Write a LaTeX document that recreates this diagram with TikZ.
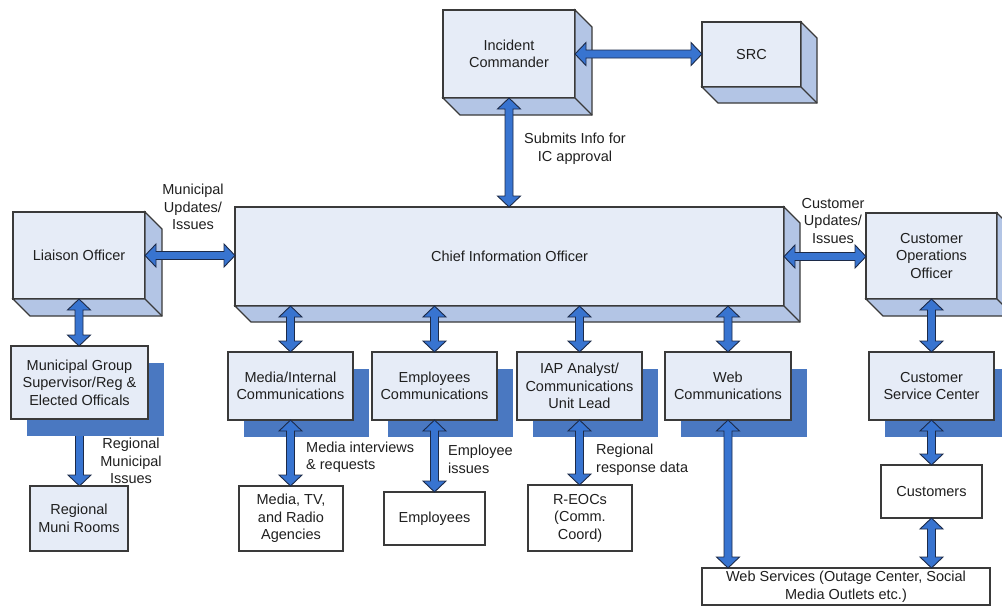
\documentclass[tikz,border=0pt]{standalone}
\usepackage{fontspec}
\setmainfont{Liberation Sans}
\usetikzlibrary{calc}
\definecolor{front}{HTML}{E6ECF7}
\definecolor{sideface}{HTML}{B3C5E5}
\definecolor{edge}{HTML}{3A3A3A}
\definecolor{shadowblue}{HTML}{4A78C1}
\definecolor{arrowfill}{HTML}{3874D0}
\definecolor{arrowline}{HTML}{1C2A48}
\pgfdeclarelayer{back}
\pgfsetlayers{back,main}

\begin{document}
\begin{tikzpicture}[x=1pt,y=-1pt,
  every node/.style={font=\fontsize{14.5}{17.5}\selectfont, align=center, text=black!88},
  box/.style={draw=edge, fill=front, line width=1.1pt, inner sep=0pt, outer sep=0pt},
  plainbox/.style={draw=edge, fill=white, line width=1.1pt, inner sep=0pt, outer sep=0pt},
  sidefaces/.style={draw=edge, fill=sideface, line width=1.1pt, line join=miter},
  lbl/.style={inner sep=0pt},
  % double-headed block arrow between two points
  dbl/.style={draw=arrowline, fill=arrowfill, line width=0.9pt, line join=miter,
    to path={let \p1=(\tikztostart), \p2=(\tikztotarget),
      \n1={atan2(\y2-\y1,\x2-\x1)} in
      -- ($(\p1)+(\n1:11pt)+(\n1+90:11.5pt)$)
      -- ($(\p1)+(\n1:11pt)+(\n1+90:4pt)$)
      -- ($(\p2)+(\n1+180:11pt)+(\n1+90:4pt)$)
      -- ($(\p2)+(\n1+180:11pt)+(\n1+90:11.5pt)$)
      -- (\p2)
      -- ($(\p2)+(\n1+180:11pt)+(\n1-90:11.5pt)$)
      -- ($(\p2)+(\n1+180:11pt)+(\n1-90:4pt)$)
      -- ($(\p1)+(\n1:11pt)+(\n1-90:4pt)$)
      -- ($(\p1)+(\n1:11pt)+(\n1-90:11.5pt)$)
      -- cycle}},
  % single-headed block arrow
  sgl/.style={draw=arrowline, fill=arrowfill, line width=0.9pt, line join=miter,
    to path={let \p1=(\tikztostart), \p2=(\tikztotarget),
      \n1={atan2(\y2-\y1,\x2-\x1)} in
      -- ($(\p1)+(\n1+90:4pt)$)
      -- ($(\p2)+(\n1+180:11pt)+(\n1+90:4pt)$)
      -- ($(\p2)+(\n1+180:11pt)+(\n1+90:11.5pt)$)
      -- (\p2)
      -- ($(\p2)+(\n1+180:11pt)+(\n1-90:11.5pt)$)
      -- ($(\p2)+(\n1+180:11pt)+(\n1-90:4pt)$)
      -- ($(\p1)+(\n1-90:4pt)$)
      -- cycle}}]

\useasboundingbox (0,0) rectangle (1002,606);
\clip (0,0) rectangle (1002,606);

% 3D boxes
\node[box, minimum width=132pt, minimum height=88pt] (ic) at (509,54) {Incident\\Commander};
\node[box, minimum width=99pt, minimum height=65pt] (src) at (751.5,54.5) {SRC};
\node[box, minimum width=132pt, minimum height=87pt] (liaison) at (79,255.5) {Liaison Officer};
\node[box, minimum width=549pt, minimum height=99pt] (cio) at (509.5,256.5) {Chief Information Officer};
\node[box, minimum width=131pt, minimum height=86pt] (cops) at (931.5,256) {Customer\\Operations\\Officer};

\foreach \n/\d in {ic/17,src/16,liaison/17,cio/16,cops/17}{
  \filldraw[sidefaces] (\n.north east) -- ++(\d,\d) -- ($(\n.south east)+(\d,\d)$)
    -- ($(\n.south west)+(\d,\d)$) -- (\n.south west) -- (\n.south east) -- cycle;
  \draw[sidefaces, fill=none] (\n.south east) -- ++(\d,\d);
}

% boxes with flat shadows
\node[box, minimum width=137pt, minimum height=73pt] (mgroup) at (79.5,382.5) {Municipal Group\\Supervisor/Reg \&\\Elected Officals};
\node[box, minimum width=125pt, minimum height=68pt] (media) at (290.5,386) {Media/Internal\\Communications};
\node[box, minimum width=125pt, minimum height=68pt] (empc) at (434.5,386) {Employees\\Communications};
\node[box, minimum width=125pt, minimum height=68pt] (iap) at (579.5,386) {IAP Analyst/\\Communications\\Unit Lead};
\node[box, minimum width=126pt, minimum height=68pt] (webc) at (728,386) {Web\\Communications};
\node[box, minimum width=125pt, minimum height=68pt] (csc) at (931.5,386) {Customer\\Service Center};

% end points
\node[box, minimum width=98pt, minimum height=65pt] (regmuni) at (79,518.5) {Regional\\Muni Rooms};
\node[plainbox, minimum width=104pt, minimum height=65pt] (mediatv) at (291,518.5) {Media, TV,\\and Radio\\Agencies};
\node[plainbox, minimum width=101pt, minimum height=53pt] (emps) at (434.5,518.5) {Employees};
\node[plainbox, minimum width=104pt, minimum height=66pt] (reocs) at (580,518) {R-EOCs\\(Comm.\\Coord)};
\node[plainbox, minimum width=101pt, minimum height=53pt] (custs) at (931.5,491.5) {Customers};
\node[plainbox, minimum width=288pt, minimum height=37pt] (websvc) at (846,586.5) {Web Services (Outage Center, Social\\Media Outlets etc.)};

\begin{pgfonlayer}{back}
  \draw[sgl] (mgroup.south) to (mgroup.south |- regmuni.north);
  \foreach \n in {mgroup,media,empc,iap,webc,csc}
    \fill[shadowblue] ($(\n.north west)+(16,17)$) rectangle ($(\n.south east)+(16,17)$);
\end{pgfonlayer}

% connector labels
\node[lbl] (lmun) at (193,207) {Municipal\\Updates/\\Issues};
\node[lbl] (lcust) at (833,221) {Customer\\Updates/\\Issues};
\node[lbl] (lsub) at (575,148.5) {Submits Info for\\IC approval};
\node[lbl, anchor=west, align=left] (lmedia) at (306,457) {Media interviews\\\& requests};
\node[lbl, anchor=west, align=left] (lemp) at (448,459.5) {Employee\\issues};
\node[lbl, anchor=west, align=left] (lreg) at (596,459.5) {Regional\\response data};
\node[lbl] (lregm) at (131,461) {Regional\\Municipal\\Issues};

% connectors
\draw[dbl] (ic.east) to (ic.east -| src.west);
\draw[dbl] (ic.south) to (ic.south |- cio.north);
\draw[dbl] (liaison.east) to (liaison.east -| cio.west);
\draw[dbl] (cio.east) to (cio.east -| cops.west);
\draw[dbl] (liaison.south) to (liaison.south |- mgroup.north);
\draw[dbl] (media.north |- cio.south) to (media.north);
\draw[dbl] (empc.north |- cio.south) to (empc.north);
\draw[dbl] (iap.north |- cio.south) to (iap.north);
\draw[dbl] (webc.north |- cio.south) to (webc.north);
\draw[dbl] (cops.south) to (cops.south |- csc.north);
\draw[dbl] (media.south) to (media.south |- mediatv.north);
\draw[dbl] (empc.south) to (empc.south |- emps.north);
\draw[dbl] (iap.south) to (iap.south |- reocs.north);
\draw[dbl] (webc.south) to (webc.south |- websvc.north);
\draw[dbl] (csc.south) to (csc.south |- custs.north);
\draw[dbl] (custs.south) to (custs.south |- websvc.north);
\end{tikzpicture}
\end{document}
